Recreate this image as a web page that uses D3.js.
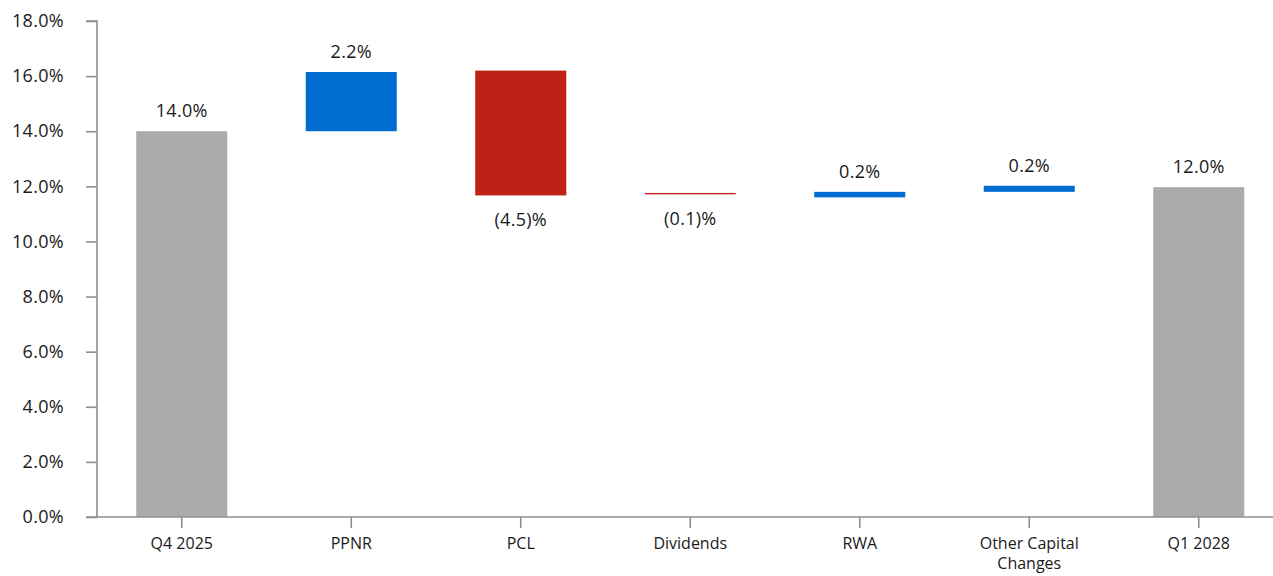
<!DOCTYPE html>
<html lang="en">
<head>
  <meta charset="utf-8">
  <title>Capital Ratio Waterfall</title>
  <script src="https://cdn.jsdelivr.net/npm/d3@7"></script>
  <style>
    body {
      margin: 0;
      background: #fff;
    }

    svg text {
      font-family: "Open Sans", sans-serif;
      fill: #1a1a1a;
    }

    .axis path,
    .axis line {
      fill: none;
      stroke: #8f8f8f;
      stroke-width: 1.6;
    }
  </style>
</head>
<body>
<script>
  // data
  var categories = ["Q4 2025", "PPNR", "PCL", "Dividends", "RWA", "Other Capital Changes", "Q1 2028"];
  var barStart = [0, 14.0, 16.2, 11.76, 11.6, 11.8, 0];
  var barEnd = [14.0, 16.15, 11.67, 11.71, 11.8, 12.02, 11.97];
  var barType = ["total", "up", "down", "down", "up", "up", "total"];
  var barLabels = ["14.0%", "2.2%", "(4.5)%", "(0.1)%", "0.2%", "0.2%", "12.0%"];
  var yTicks = [0, 2, 4, 6, 8, 10, 12, 14, 16, 18];

  var colors = { total: "#ababab", up: "#006bd1", down: "#be2116" };

  var W = 1273, H = 576;
  var mLeft = 97, mTop = 21, mBottom = 517;

  var svg = d3.select("body").append("svg")
    .attr("width", W)
    .attr("height", H);

  var x = d3.scaleBand()
    .domain(categories)
    .range([mLeft, mLeft + 7 * 169.5])
    .paddingInner(0.463)
    .paddingOuter(0.2315);

  var y = d3.scaleLinear().domain([0, 18]).range([mBottom, mTop]);

  // bars
  svg.selectAll(".bar")
    .data(categories)
    .enter().append("rect")
    .attr("class", "bar")
    .attr("x", function(d) { return x(d); })
    .attr("width", x.bandwidth())
    .attr("y", function(d, i) { return y(Math.max(barStart[i], barEnd[i])); })
    .attr("height", function(d, i) { return Math.abs(y(barStart[i]) - y(barEnd[i])); })
    .style("fill", function(d, i) { return colors[barType[i]]; });

  // value labels
  svg.selectAll(".lbl")
    .data(categories)
    .enter().append("text")
    .attr("class", "lbl")
    .attr("x", function(d) { return x(d) + x.bandwidth() / 2; })
    .attr("y", function(d, i) {
      if (barType[i] == "down") return y(Math.min(barStart[i], barEnd[i])) + 31;
      return y(Math.max(barStart[i], barEnd[i])) - 14;
    })
    .attr("text-anchor", "middle")
    .style("font-size", "18px")
    .style("letter-spacing", "0.3px")
    .text(function(d, i) { return barLabels[i]; });

  // y axis
  var yAxis = d3.axisLeft(y)
    .tickValues(yTicks)
    .tickSize(11)
    .tickPadding(22)
    .tickFormat(function(d) { return d.toFixed(1) + "%"; });

  var gy = svg.append("g")
    .attr("class", "axis")
    .attr("transform", "translate(" + mLeft + ",0)")
    .call(yAxis);
  gy.select(".domain").attr("d", "M-11," + mTop + "H0V" + mBottom);
  gy.selectAll("text").style("font-size", "18px").style("letter-spacing", "0.3px");

  // x axis
  var xAxis = d3.axisBottom(x).tickSize(11).tickSizeOuter(0).tickPadding(10);
  var gx = svg.append("g")
    .attr("class", "axis")
    .attr("transform", "translate(0," + mBottom + ")")
    .call(xAxis);
  gx.select(".domain").attr("d", "M" + (mLeft - 11) + ",0H" + W);
  gx.selectAll("text").style("font-size", "16px");

  // wrap the long category name onto two lines
  gx.selectAll(".tick text").each(function(d) {
    if (d == "Other Capital Changes") {
      var t = d3.select(this).text(null);
      t.append("tspan").attr("x", 0).attr("dy", "0.71em").text("Other Capital");
      t.append("tspan").attr("x", 0).attr("dy", "1.2em").text("Changes");
    }
  });
</script>
</body>
</html>
